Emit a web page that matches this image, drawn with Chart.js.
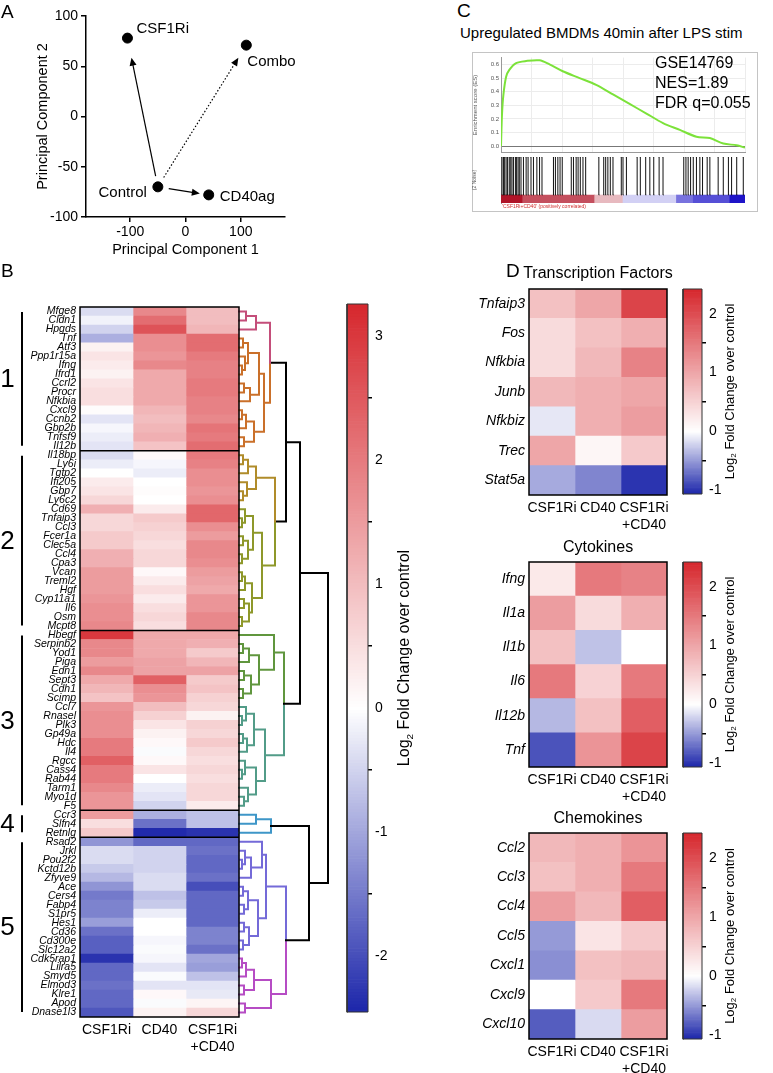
<!DOCTYPE html>
<html>
<head>
<meta charset="utf-8">
<script src="https://cdn.jsdelivr.net/npm/chart.js@4.4.1/dist/chart.umd.min.js"></script>
<style>
    body { margin: 0; background: #fff; }
    #page { position: relative; width: 773px; height: 1073px; overflow: hidden; font-family: "Liberation Sans", Arial, sans-serif; color: #000; }
    #page canvas, .txt { position: absolute; }
    .txt { line-height: 1; white-space: nowrap; z-index: 2; }
    .letter { font-size: 19px; }
    .dtitle { font-size: 16px; width: 160px; text-align: center; }
    #gseaBox { position: absolute; left: 472px; top: 52px; width: 286px; height: 160px; border: 1px solid #c4c4c4; box-sizing: border-box; }
</style>
</head>
<body>
<div id="page">
    <div id="gseaBox"></div>
    <canvas id="pca" width="300" height="265" style="left:0;top:0"></canvas>
    <canvas id="heatB" width="345" height="783" style="left:0;top:290px"></canvas>
    <canvas id="barB" width="100" height="783" style="left:330px;top:290px"></canvas>
    <canvas id="es" width="286" height="106" style="left:472px;top:52px"></canvas>
    <canvas id="hits" width="286" height="55" style="left:472px;top:157px"></canvas>
    <canvas id="heatTF" width="240" height="280" style="left:440px;top:255px"></canvas>
    <canvas id="barTF" width="107" height="280" style="left:666px;top:255px"></canvas>
    <canvas id="heatCyto" width="240" height="279" style="left:440px;top:528px"></canvas>
    <canvas id="barCyto" width="107" height="279" style="left:666px;top:528px"></canvas>
    <canvas id="heatChemo" width="240" height="280" style="left:440px;top:799px"></canvas>
    <canvas id="barChemo" width="107" height="280" style="left:666px;top:799px"></canvas>

    <div class="txt letter" style="left:1px;top:2px">A</div>
    <div class="txt letter" style="left:1px;top:261px">B</div>
    <div class="txt letter" style="left:457px;top:1px">C</div>
    <div class="txt letter" style="left:506px;top:261px">D</div>

    <div class="txt" style="left:460px;top:25px;font-size:15px">Upregulated BMDMs 40min after LPS stim</div>
    <div class="txt" style="left:655px;top:53px;font-size:16px;line-height:20px">GSE14769<br>NES=1.89<br>FDR q=0.055</div>
    <div class="txt" style="left:502px;top:204px;font-size:5px;color:#d03030">'CSF1Ri+CD40' (positively correlated)</div>

    <div class="txt dtitle" style="left:518px;top:265px">Transcription Factors</div>
    <div class="txt dtitle" style="left:518px;top:539px">Cytokines</div>
    <div class="txt dtitle" style="left:518px;top:810px">Chemokines</div>
</div>

<script>
// ---- A: PCA ----
const pcaGroups = ['CSF1Ri', 'Combo', 'Control', 'CD40ag'];
const pc1 = [-105, 110, -50, 42];
const pc2 = [78, 71, -70, -78];

// ---- B: clustered heatmap ----
const conditions = ['CSF1Ri', 'CD40', 'CSF1Ri+CD40'];
const clusterNames = ['1', '2', '3', '4', '5'];
const clusterSizes = [16, 20, 20, 3, 20];
const genesB = [
    'Mfge8', 'Cldn1', 'Hpgds', 'Tnf', 'Atf3', 'Ppp1r15a', 'Ifng', 'Ifrd1', 'Ccrl2', 'Procr', 'Nfkbia', 'Cxcl9', 'Ccnb2', 'Gbp2b', 'Tnfsf9', 'Il12b',
    'Il18bp', 'Ly6i', 'Tgtp2', 'Ifi205', 'Gbp7', 'Ly6c2', 'Cd69', 'Tnfaip3', 'Ccl3', 'Fcer1a', 'Clec5a', 'Ccl4', 'Cpa3', 'Vcan', 'Treml2', 'Hgf', 'Cyp11a1', 'Il6', 'Osm', 'Mcpt8',
    'Hbegf', 'Serpinb2', 'Yod1', 'Piga', 'Edn1', 'Sept3', 'Cdh1', 'Scimp', 'Ccl7', 'Rnasel', 'Plk3', 'Gp49a', 'Hdc', 'Il4', 'Rgcc', 'Cass4', 'Rab44', 'Tarm1', 'Myo1d', 'F5',
    'Ccr3', 'Slfn4', 'Retnlg',
    'Rsad2', 'Jrkl', 'Pou2f2', 'Kctd12b', 'Zfyve9', 'Ace', 'Cers4', 'Fabp4', 'S1pr5', 'Hes1', 'Cd36', 'Cd300e', 'Slc12a2', 'Cdk5rap1', 'Lilra5', 'Smyd5', 'Elmod3', 'Klre1', 'Apod', 'Dnase1l3'
];
const fcCSF1Ri = [
    -0.4, -0.15, -0.5, -0.9, 0.2, 0.4, 0.3, 0.2, 0.4, 0.5, 0.5, 0.05, -0.3, -0.1, -0.2, -0.3,
    -0.4, -0.2, 0.0, 0.3, 0.4, 0.6, 1.2, 0.6, 0.6, 0.8, 0.8, 1.2, 1.2, 1.5, 1.5, 1.5, 1.6, 1.7, 1.7, 1.8,
    3.0, 1.8, 1.8, 1.5, 1.8, 1.3, 1.1, 0.9, 1.6, 1.7, 1.7, 1.7, 2.0, 2.0, 2.4, 2.0, 2.0, 1.8, 1.6, 1.6,
    1.5, 0.5, 0.8,
    -1.2, -0.4, -0.4, -0.6, -0.8, -1.2, -1.5, -1.4, -1.4, -1.1, -1.6, -1.8, -1.8, -2.3, -1.7, -1.7, -1.6, -1.7, -1.7, -1.9
];
const fcCD40 = [
    1.8, 2.2, 2.6, 1.7, 1.7, 1.6, 1.8, 1.3, 1.3, 1.3, 1.3, 1.1, 1.0, 1.1, 1.2, 0.9,
    0.1, -0.1, -0.2, 0.0, 0.05, 0.0, 0.3, 0.8, 0.7, 0.6, 0.5, 0.6, 0.6, 0.1, 0.3, 0.5, 0.3, 0.5, 0.6, 0.5,
    1.3, 1.3, 1.3, 1.4, 1.4, 2.4, 1.7, 1.6, 1.0, 0.7, 0.4, 0.2, 0.1, -0.05, 0.1, 0.4, 0.0, -0.2, -0.3, -0.5,
    -0.9, -1.6, -2.4,
    -1.7, -0.5, -0.5, -0.5, -0.4, -0.4, -0.7, -0.6, -0.2, 0.0, 0.0, -0.1, -0.05, -0.1, -0.3, -0.05, -0.3, 0.1, -0.05, 0.2
];
const fcCombo = [
    1.0, 1.0, 1.1, 2.2, 2.2, 2.0, 1.9, 1.9, 2.0, 2.0, 1.9, 1.9, 1.8, 2.1, 2.0, 2.2,
    2.0, 1.9, 1.7, 1.7, 1.6, 1.7, 2.3, 2.3, 1.7, 1.5, 1.8, 1.8, 1.7, 1.5, 1.4, 1.3, 1.6, 1.6, 1.8, 1.8,
    1.3, 1.2, 0.8, 1.1, 1.4, 0.8, 0.9, 0.7, 0.6, 0.2, 0.7, 0.6, 0.8, 0.6, 0.5, 0.6, 0.5, 0.6, 0.6, 0.3,
    -0.7, -0.7, -2.3,
    -1.7, -1.6, -1.7, -1.7, -1.6, -2.0, -1.7, -1.7, -1.7, -1.7, -1.4, -1.4, -1.6, -1.0, -1.1, -0.7, -0.3, -0.25, 0.15, 0.6
];
const rangeB = [-2.45, 3.26];
const ticksB = [-2, -1, 0, 1, 2, 3];

// dendrogram subtrees: [height, left, right], 0 = leaf (leaves in row order)
const dendPink = [17, [7, 0, 0], 0];
const dendOrange = [25, [20, [9, [4, 0, 0], [6, 0, [3, 0, 0]]], [11, [5, 0, 0], 0]], [15, [7, [3, 0, 0], 0], [5, 0, 0]]];
const dendGold = [17, [9, [4, 0, 0], 0], [8, 0, [4, 0, 0]]];
const dendLime = [23, [14, [6, 0, [3, 0, 0]], [9, [4, 0, 0], [3, 0, 0]]], [13, [6, [3, 0, 0], 0], [10, [5, 0, 0], [3, 0, 0]]]];
const dendGreen = [35, 0, [20, [10, [4, 0, 0], 0], [12, [5, 0, 0], [4, 0, 0]]]];
const dendTeal = [26, [15, [7, 0, [3, 0, 0]], [8, [4, 0, 0], 0]], [17, [6, 0, [3, 0, 0]], [9, 0, [5, 0, 0]]]];
const dendC4 = [32, [17, 0, 0], 0];
const dendPurple = [27, [23, 0, [12, [6, 0, [3, 0, 0]], 0]], [19, [9, [4, 0, 0], [5, 0, 0]], [10, [5, 0, 0], [4, 0, 0]]]];
const dendMagenta = [32, [15, [7, [3, 0, 0], 0], [5, 0, 0]], [6, 0, 0]];
// merge heights above the colour clusters: root, 1-3, 1-2, 1, 2, 3, 4-5, 5
const dendUpper = [89, 61, 47, 31, 36, 45, 70, 47];

// ---- C: GSEA ----
const esRank = [0, 4, 10, 21, 34, 62, 103, 158, 199, 253, 322, 390, 459, 527, 596, 664, 733, 801, 856, 911, 966, 1000];
const esScore = [0, 0.23, 0.38, 0.51, 0.56, 0.61, 0.625, 0.63, 0.6, 0.55, 0.5, 0.45, 0.38, 0.31, 0.24, 0.17, 0.12, 0.07, 0.06, 0.02, 0.007, -0.01];
const esTicks = [0, 0.1, 0.2, 0.3, 0.4, 0.5, 0.6];
const hitRanks = [4, 10, 15, 21, 27, 34, 40, 45, 51, 59, 64, 70, 75, 82, 92, 103, 111, 123, 133, 147, 158, 168,
    215, 223, 233, 242, 251, 288, 297, 308, 316, 325, 336, 347, 401, 421, 429, 438, 448, 459, 493, 500, 514,
    558, 571, 593, 610, 626, 648, 664, 749, 758, 767, 777, 788, 801, 815, 826, 845, 856, 890, 911, 932, 945, 966, 993];
const rankEdges = [0, 89, 384, 500, 719, 788, 938, 1000];
const rankMetric = [1.0, 0.75, 0.3, -0.2, -0.6, -0.75, -1.0];

// ---- D: selected genes ----
const tfGenes = ['Tnfaip3', 'Fos', 'Nfkbia', 'Junb', 'Nfkbiz', 'Trec', 'Stat5a'];
const tfCSF1Ri = [0.7, 0.4, 0.4, 0.8, -0.12, 1.0, -0.42];
const tfCD40 = [1.0, 0.7, 0.8, 0.9, 0.9, 0.1, -0.6];
const tfCombo = [2.1, 0.9, 1.4, 1.0, 1.1, 0.6, -1.0];
const cytoGenes = ['Ifng', 'Il1a', 'Il1b', 'Il6', 'Il12b', 'Tnf'];
const cytoCSF1Ri = [0.25, 1.1, 0.7, 1.5, -0.35, -0.85];
const cytoCD40 = [1.5, 0.4, -0.3, 0.5, 0.7, 1.2];
const cytoCombo = [1.4, 0.9, 0.0, 1.5, 1.8, 2.1];
const chemoGenes = ['Ccl2', 'Ccl3', 'Ccl4', 'Ccl5', 'Cxcl1', 'Cxcl9', 'Cxcl10'];
const chemoCSF1Ri = [0.8, 0.7, 1.1, -0.5, -0.55, 0.0, -0.8];
const chemoCD40 = [0.9, 0.9, 0.8, 0.3, 0.7, 0.6, -0.18];
const chemoCombo = [1.2, 1.5, 1.8, 0.6, 0.8, 1.5, 1.1];
const rangeD = [-1.07, 2.42];
const ticksD = [-1, 0, 1, 2];

// ---------------------------------------------------------------
const FONT = '"Liberation Sans", Arial, sans-serif';
Chart.defaults.font.family = FONT;
Chart.defaults.font.size = 14;
Chart.defaults.color = '#000';
Chart.defaults.animation = false;
Chart.defaults.events = [];
Chart.defaults.plugins.legend.display = false;
Chart.defaults.plugins.tooltip.enabled = false;

const RED = [214, 39, 45];
const BLUE = [28, 38, 170];

function divergent(v, lo, hi, neg, pos) {
    const t = v >= 0 ? Math.min(v / hi, 1) : Math.min(v / lo, 1);
    const end = v >= 0 ? pos : neg;
    return 'rgb(' + end.map(e => Math.round(255 + (e - 255) * t)).join(',') + ')';
}

function lineDs(points, color, width, dash) {
    return {
        type: 'line', indexAxis: 'x', order: 0, data: points,
        borderColor: color, borderWidth: width, borderDash: dash || [],
        borderCapStyle: 'square', borderJoinStyle: 'miter',
        pointRadius: 0, fill: false, tension: 0, clip: false, spanGaps: false
    };
}

function splitLabel(l) {
    const i = l.indexOf('+');
    return i > 0 ? [l.slice(0, i), l.slice(i)] : l;
}

// Log2 title drawn bottom-to-top beside a colour bar
const log2Title = {
    id: 'log2Title',
    afterDraw(chart, args, opts) {
        const { ctx, chartArea: a } = chart;
        const main = opts.size + 'px ' + FONT;
        const sub = (opts.size * 0.62) + 'px ' + FONT;
        const rest = ' Fold Change over control';
        ctx.save();
        ctx.font = main;
        const w1 = ctx.measureText('Log').width, w3 = ctx.measureText(rest).width;
        ctx.font = sub;
        const w2 = ctx.measureText('2').width;
        ctx.translate(a.right + opts.offset, (a.top + a.bottom) / 2);
        ctx.rotate(-Math.PI / 2);
        ctx.fillStyle = '#000';
        ctx.textBaseline = 'middle';
        ctx.textAlign = 'left';
        let x = -(w1 + w2 + w3) / 2;
        ctx.font = main; ctx.fillText('Log', x, 0); x += w1;
        ctx.font = sub; ctx.fillText('2', x, opts.size * 0.32); x += w2;
        ctx.font = main; ctx.fillText(rest, x, 0);
        ctx.restore();
    }
};

function heatmapChart(id, genes, cols, range, o) {
    const n = genes.length;
    const datasets = cols.map((vals, c) => ({
        type: 'bar', indexAxis: 'y', order: 2, grouped: false,
        barPercentage: 1, categoryPercentage: 1, borderWidth: 0,
        data: vals.map((v, r) => ({ x: [c, c + 1], y: r })),
        backgroundColor: vals.map(v => divergent(v, range[0], range[1], BLUE, RED))
    }));
    const top = -0.5, bottom = n - 0.5, right = cols.length;
    const frame = [{ x: 0, y: top }, { x: right, y: top }, { x: right, y: bottom }, { x: 0, y: bottom }, { x: 0, y: top }, { x: null, y: null }];
    let acc = 0;
    (o.groups || []).slice(0, -1).forEach(g => {
        acc += g;
        frame.push({ x: 0, y: acc - 0.5 }, { x: right, y: acc - 0.5 }, { x: null, y: null });
    });
    datasets.push(lineDs(frame, '#000', o.frameWidth));
    (o.extra || []).forEach(d => datasets.push(d));

    return new Chart(document.getElementById(id), {
        type: 'bar',
        data: { datasets },
        options: {
            indexAxis: 'y',
            responsive: false,
            layout: { padding: o.padding },
            scales: {
                x: {
                    type: 'linear', min: 0, max: o.xMax || right, offset: false,
                    grid: { display: false, drawTicks: false }, border: { display: false },
                    afterBuildTicks: s => { s.ticks = cols.map((_, c) => ({ value: c + 0.5 })); },
                    afterFit: s => { s.height = o.xHeight; },
                    ticks: {
                        autoSkip: false, maxRotation: 0, minRotation: 0, padding: o.xPad,
                        font: { size: 14 }, callback: (v, i) => splitLabel(conditions[i])
                    }
                },
                y: {
                    type: 'linear', min: top, max: bottom, reverse: true, offset: false,
                    grid: { display: false, drawTicks: false }, border: { display: false },
                    afterBuildTicks: s => { s.ticks = genes.map((g, i) => ({ value: i })); },
                    afterFit: s => { s.width = o.yWidth; },
                    ticks: {
                        autoSkip: false, padding: o.yPad,
                        font: { size: o.geneSize, style: 'italic' },
                        callback: (v, i) => genes[i]
                    }
                }
            }
        },
        plugins: o.plugins || []
    });
}

function colorbarChart(id, range, tickVals, o) {
    const [lo, hi] = range;
    const steps = [];
    for (let v = lo; v <= hi + 1e-9; v += o.step) steps.push(+v.toFixed(4));
    const outline = [{ x: 0, y: lo }, { x: 1, y: lo }, { x: 1, y: hi }, { x: 0, y: hi }, { x: 0, y: lo }];
    return new Chart(document.getElementById(id), {
        type: 'bar',
        data: {
            datasets: [
                lineDs(outline, '#333', 1),
                {
                    type: 'bar', indexAxis: 'y', order: 2, grouped: false,
                    barPercentage: 1, categoryPercentage: 1, borderWidth: 0,
                    data: steps.map(v => ({ x: [0, 1], y: v })),
                    backgroundColor: steps.map(v => divergent(v, lo, hi, BLUE, RED))
                }
            ]
        },
        options: {
            indexAxis: 'y',
            responsive: false,
            layout: { padding: o.padding },
            scales: {
                x: { type: 'linear', min: 0, max: 1, display: false },
                y: {
                    type: 'linear', position: 'right', min: lo, max: hi, offset: false,
                    afterBuildTicks: s => { s.ticks = tickVals.map(v => ({ value: v })); },
                    afterFit: s => { s.width = o.axisWidth; },
                    grid: { display: true, drawOnChartArea: false, drawTicks: true, tickLength: 4, color: '#000', lineWidth: 1.5 },
                    border: { display: false },
                    ticks: { padding: 3, font: { size: 14 }, callback: v => String(v) }
                }
            },
            plugins: { log2Title: { size: o.titleSize, offset: o.titleOffset } }
        },
        plugins: [log2Title]
    });
}

// ---------------- A ----------------
const pcaArrows = [['CSF1Ri', false, 20], ['CD40ag', false, 9], ['Combo', true, 15]];
const pcaLabelPos = { CSF1Ri: [9, -9, 'left'], Combo: [1, 17, 'left'], Control: [-11, 6, 'right'], CD40ag: [11, 2, 'left'] };

const pcaDecor = {
    id: 'pcaDecor',
    afterDatasetsDraw(chart) {
        const { ctx, scales: { x, y } } = chart;
        const P = {};
        pcaGroups.forEach((g, i) => { P[g] = [x.getPixelForValue(pc1[i]), y.getPixelForValue(pc2[i])]; });
        const [cx, cy] = P.Control;
        ctx.save();
        ctx.strokeStyle = '#000';
        ctx.fillStyle = '#000';
        pcaArrows.forEach(([target, dashed, gap]) => {
            const [tx, ty] = P[target];
            const L = Math.hypot(tx - cx, ty - cy), ux = (tx - cx) / L, uy = (ty - cy) / L;
            const sx = cx + ux * 11, sy = cy + uy * 11;
            const ex = tx - ux * gap, ey = ty - uy * gap;
            ctx.lineWidth = 1.2;
            ctx.setLineDash(dashed ? [1.5, 2] : []);
            ctx.beginPath();
            ctx.moveTo(sx, sy);
            ctx.lineTo(ex - ux * 6, ey - uy * 6);
            ctx.stroke();
            ctx.setLineDash([]);
            ctx.beginPath();
            ctx.moveTo(ex, ey);
            ctx.lineTo(ex - ux * 8 - uy * 3.5, ey - uy * 8 + ux * 3.5);
            ctx.lineTo(ex - ux * 8 + uy * 3.5, ey - uy * 8 - ux * 3.5);
            ctx.closePath();
            ctx.fill();
        });
        ctx.font = '15px ' + FONT;
        ctx.textBaseline = 'middle';
        pcaGroups.forEach(g => {
            const [dx, dy, align] = pcaLabelPos[g];
            ctx.textAlign = align;
            ctx.fillText(g, P[g][0] + dx, P[g][1] + dy);
        });
        ctx.restore();
    }
};

new Chart(document.getElementById('pca'), {
    type: 'scatter',
    data: {
        datasets: [{
            data: pc1.map((v, i) => ({ x: v, y: pc2[i] })),
            backgroundColor: '#000', borderColor: '#000', pointRadius: 5
        }]
    },
    options: {
        responsive: false,
        layout: { padding: { left: 30, top: 16, right: 15, bottom: 0 } },
        scales: {
            x: {
                min: -180, max: 180,
                afterBuildTicks: s => { s.ticks = [-100, 0, 100].map(v => ({ value: v })); },
                afterFit: s => { s.height = 48; },
                grid: { drawOnChartArea: false, tickLength: 5, color: '#000', lineWidth: 1.5 },
                border: { color: '#000', width: 1.5 },
                ticks: { padding: 2, font: { size: 14 } },
                title: { display: true, text: 'Principal Component 1', font: { size: 14.5 }, padding: { top: 0, bottom: 6 } }
            },
            y: {
                min: -100, max: 100,
                ticks: { stepSize: 50, padding: 3, font: { size: 14 } },
                afterFit: s => { s.width = 56; },
                grid: { drawOnChartArea: false, tickLength: 5, color: '#000', lineWidth: 1.5 },
                border: { color: '#000', width: 1.5 },
                title: { display: true, text: 'Principal Component 2', font: { size: 14.5 }, padding: { top: 4, bottom: 0 } }
            }
        }
    },
    plugins: [pcaDecor]
});

// ---------------- B ----------------
const PINK = 'rgb(196,78,122)', ORANGE = 'rgb(202,112,42)', GOLD = 'rgb(176,140,42)', LIME = 'rgb(142,152,42)';
const GREEN = 'rgb(96,150,62)', TEAL = 'rgb(82,156,136)', SKY = 'rgb(62,150,200)', PURPLE = 'rgb(116,106,216)', MAGENTA = 'rgb(182,76,196)';
const tag = (t, c) => [t[0], t[1], t[2], c];
const [hRoot, h123, h12, h1, h2, h3, h45, h5] = dendUpper;
const dendTree = [hRoot,
    [h123,
        [h12,
            [h1, tag(dendPink, PINK), tag(dendOrange, ORANGE), 'mix'],
            [h2, tag(dendGold, GOLD), tag(dendLime, LIME), 'mix']],
        [h3, tag(dendGreen, GREEN), tag(dendTeal, TEAL), 'mix']],
    [h45, tag(dendC4, SKY),
        [h5, tag(dendPurple, PURPLE), tag(dendMagenta, MAGENTA), 'mix']]];

function dendrogramDatasets(tree, toX) {
    const segs = new Map();
    let leaf = 0;
    const add = (col, pts) => {
        if (!segs.has(col)) segs.set(col, []);
        segs.get(col).push(...pts, { x: null, y: null });
    };
    function walk(node, inherited) {
        if (node === 0) return { h: 0, y: leaf++, color: inherited };
        const [h, a, b, t] = node;
        const own = t && t !== 'mix' ? t : inherited;
        const A = walk(a, own), B = walk(b, own);
        const mid = (A.y + B.y) / 2;
        [A, B].forEach(ch => {
            const col = t === 'mix' ? ch.color : (own || '#000');
            add(col, [{ x: toX(ch.h), y: ch.y }, { x: toX(h), y: ch.y }, { x: toX(h), y: mid }]);
        });
        return { h, y: mid, color: own };
    }
    walk(tree, undefined);
    return [...segs].map(([col, pts]) => lineDs(pts, col, 2));
}

const clusterBrackets = {
    id: 'clusterBrackets',
    afterDraw(chart) {
        const { ctx, scales: { y } } = chart;
        let start = 0;
        ctx.save();
        ctx.strokeStyle = '#000';
        ctx.fillStyle = '#000';
        ctx.lineWidth = 2;
        ctx.font = '26px ' + FONT;
        ctx.textAlign = 'center';
        ctx.textBaseline = 'middle';
        clusterSizes.forEach((n, k) => {
            const y0 = y.getPixelForValue(start - 0.5) + 5;
            const y1 = y.getPixelForValue(start + n - 0.5) - 5;
            ctx.beginPath();
            ctx.moveTo(22, y0);
            ctx.lineTo(22, y1);
            ctx.stroke();
            ctx.fillText(clusterNames[k], 7.5, (y0 + y1) / 2 + 1);
            start += n;
        });
        ctx.restore();
    }
};

const DEND_PX = 53; // pixels per heatmap column
heatmapChart('heatB', genesB, [fcCSF1Ri, fcCD40, fcCombo], rangeB, {
    groups: clusterSizes,
    frameWidth: 1.5,
    xMax: 3 + 94 / DEND_PX,
    padding: { top: 17, right: 12, left: 0, bottom: 0 },
    xHeight: 56, xPad: 5, yWidth: 80, yPad: 4, geneSize: 10.5,
    extra: dendrogramDatasets(dendTree, h => 3 + h / DEND_PX),
    plugins: [clusterBrackets]
});

colorbarChart('barB', rangeB, ticksB, {
    step: 0.025,
    padding: { left: 17, top: 14, bottom: 61, right: 40 },
    axisWidth: 22, titleSize: 16, titleOffset: 37
});

// ---------------- C ----------------
new Chart(document.getElementById('es'), {
    type: 'line',
    data: {
        datasets: [{
            data: esRank.map((r, i) => ({ x: r, y: esScore[i] })),
            borderColor: 'rgb(124,226,58)', borderWidth: 2, pointRadius: 0, tension: 0.3
        }]
    },
    options: {
        responsive: false,
        layout: { padding: { top: 1, right: 13, bottom: 1, left: 0 } },
        scales: {
            x: {
                type: 'linear', min: 0, max: 1000,
                afterFit: s => { s.height = 0; },
                ticks: { display: false, stepSize: 125 },
                grid: { color: '#ececec', drawTicks: false },
                border: { color: '#999' }
            },
            y: {
                min: -0.045, max: 0.65,
                afterBuildTicks: s => { s.ticks = esTicks.map(v => ({ value: v })); },
                afterFit: s => { s.width = 29; },
                ticks: { font: { size: 6 }, color: '#555', padding: 2, callback: v => v.toFixed(1) },
                grid: { color: c => (c.tick && c.tick.value === 0 ? '#777' : '#ececec'), drawTicks: false },
                border: { color: '#999' },
                title: { display: true, text: 'Enrichment score (ES)', font: { size: 6 }, color: '#555', padding: { top: 0, bottom: 0 } }
            }
        }
    }
});

const GSEA_RED = [176, 20, 40], GSEA_BLUE = [30, 20, 200];
new Chart(document.getElementById('hits'), {
    type: 'bar',
    data: {
        datasets: [
            lineDs(hitRanks.flatMap(r => [{ x: r, y: 0 }, { x: r, y: 1 }, { x: null, y: null }]), '#111', 1),
            {
                type: 'bar', indexAxis: 'y', order: 2, grouped: false, barThickness: 8, borderWidth: 0,
                data: rankMetric.map((m, i) => ({ x: [rankEdges[i], rankEdges[i + 1]], y: -0.105 })),
                backgroundColor: rankMetric.map(m => divergent(m, -1, 1, GSEA_BLUE, GSEA_RED))
            }
        ]
    },
    options: {
        indexAxis: 'y',
        responsive: false,
        layout: { padding: { top: 0, right: 13, bottom: 9, left: 0 } },
        scales: {
            x: { type: 'linear', min: 0, max: 1000, display: false },
            y: {
                type: 'linear', min: -0.21, max: 1, offset: false,
                afterFit: s => { s.width = 29; },
                ticks: { display: false },
                grid: { display: false },
                border: { color: '#999' },
                title: { display: true, text: '(2 Noise)', font: { size: 5 }, color: '#555', padding: 0 }
            }
        }
    }
});

// ---------------- D ----------------
const dOpts = {
    frameWidth: 1.5,
    padding: { top: 34, right: 13, left: 0, bottom: 0 },
    xHeight: 40, xPad: 5, yWidth: 89, yPad: 4, geneSize: 14
};
heatmapChart('heatTF', tfGenes, [tfCSF1Ri, tfCD40, tfCombo], rangeD, dOpts);
heatmapChart('heatCyto', cytoGenes, [cytoCSF1Ri, cytoCD40, cytoCombo], rangeD, dOpts);
heatmapChart('heatChemo', chemoGenes, [chemoCSF1Ri, chemoCD40, chemoCombo], rangeD, dOpts);

const dBar = { step: 0.02, axisWidth: 20, titleSize: 13, titleOffset: 28 };
colorbarChart('barTF', rangeD, ticksD, Object.assign({ padding: { left: 17, top: 34, bottom: 41, right: 51 } }, dBar));
colorbarChart('barCyto', rangeD, ticksD, Object.assign({ padding: { left: 17, top: 34, bottom: 40, right: 51 } }, dBar));
colorbarChart('barChemo', rangeD, ticksD, Object.assign({ padding: { left: 17, top: 34, bottom: 40, right: 51 } }, dBar));
</script>
</body>
</html>
